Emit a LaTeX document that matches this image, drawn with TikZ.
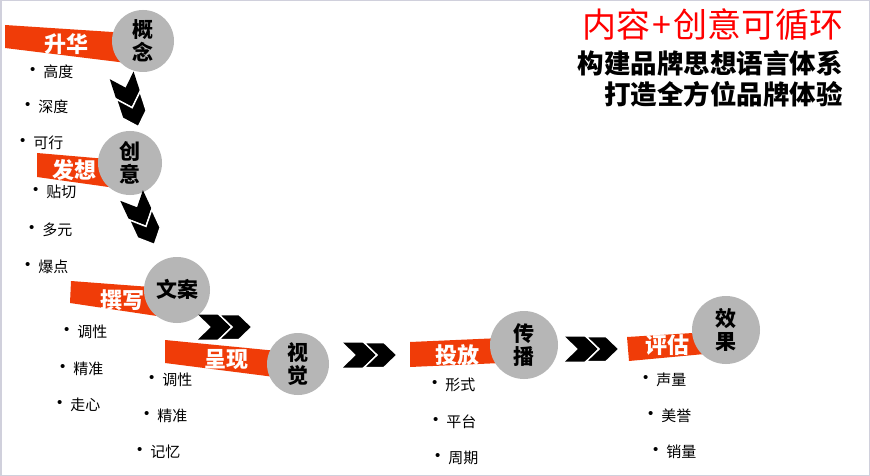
\documentclass[tikz,border=0pt]{standalone}
\usepackage{fontspec}
\newfontfamily\cjk{Noto Sans CJK SC}
\newfontfamily\lat{Liberation Sans}
\newcommand\fsz[1]{\fontsize{#1}{#1}\selectfont}
\definecolor{bannerc}{RGB}{240,60,8}
\definecolor{circc}{RGB}{182,182,182}
\definecolor{framec}{RGB}{208,208,220}
\newcommand\chevpair[3]{%
\begin{scope}[shift={(#1,#2)}, rotate=#3]
\fill[black] (-27,-12.5) -- (-7,-12.5) -- (6,0) -- (-7,12.5) -- (-27,12.5) -- (-14,0) -- cycle;
\filldraw[black, draw=white, line width=1.5pt] (-6,-12.5) -- (14,-12.5) -- (27,0) -- (14,12.5) -- (-6,12.5) -- (7,0) -- cycle;
\end{scope}}
\tikzset{
  banner/.style={fill=bannerc},
  btext/.style={text=white, font=\cjk\bfseries\fsz{22}, inner sep=0pt},
  circ/.style={circle, fill=circc, inner sep=0pt, align=center, font=\cjk\bfseries\fsz{21}},
  bul/.style={anchor=west, inner sep=0pt, font=\cjk\fsz{15}},
  title/.style={anchor=east, inner sep=0pt, font=\cjk\bfseries}
}
\newcommand\bl[1]{{\lat\raisebox{3pt}{•}}\hspace{8pt}#1}
\begin{document}
\begin{tikzpicture}[x=1pt,y=-1pt]
\useasboundingbox (0,0) rectangle (870,476);
\fill[white] (0,0) rectangle (870,476);
\draw[framec, line width=3pt] (0,0) rectangle (870,476);

% banners
\fill[banner] (5,25) -- (143,34) -- (143,65) -- (5,48) -- cycle;
\fill[banner] (37,153) -- (130,161) -- (130,190) -- (37,177) -- cycle;
\fill[banner] (71,281) -- (177,289) -- (177,319) -- (70,303) -- cycle;
\fill[banner] (165,340) -- (298,353) -- (298,380) -- (165,363) -- cycle;
\fill[banner] (410,342) -- (524,337) -- (524,362) -- (410,367) -- cycle;
\fill[banner] (627,337) -- (726,331) -- (726,352) -- (629,361) -- cycle;

% circles
\node[circ, minimum size=62pt] (gn) at (143,41) {概\\[2pt]念};
\node[circ, minimum size=64pt] (cy) at (130,163) {创\\[2pt]意};
\node[circ, minimum size=66pt] (wa) at (177,290) {\raisebox{4pt}{文案}};
\node[circ, minimum size=62pt] (sj) at (298,364) {视\\[2pt]觉};
\node[circ, minimum size=68pt] (cb) at (524,345) {传\\[2pt]播};
\node[circ, minimum size=68pt] (xg) at (726,330) {效\\[2pt]果};

% banner texts
\node[btext] (t1) at (66,44) {升华};
\node[btext] (t2) at (74,170) {发想};
\node[btext] (t3) at (122,300) {撰写};
\node[btext] (t4) at (226,360) {呈现};
\node[btext] (t5) at (457,355) {投放};
\node[btext] (t6) at (667,345) {评估};

% chevrons
\chevpair{130}{101}{-72}
\chevpair{143}{220}{-65}
\chevpair{225}{327}{0}
\chevpair{370}{355}{0}
\chevpair{592}{349}{0}

% bullets
\node[bul] (a1) at (30,72) {\bl{高度}};
\node[bul] (a2) at (25,107) {\bl{深度}};
\node[bul] (a3) at (20,143) {\bl{可行}};
\node[bul] (b1) at (33,192) {\bl{贴切}};
\node[bul] (b2) at (29,230) {\bl{多元}};
\node[bul] (b3) at (25,267) {\bl{爆点}};
\node[bul] (c1) at (64,332) {\bl{调性}};
\node[bul] (c2) at (60,369) {\bl{精准}};
\node[bul] (c3) at (57,405) {\bl{走心}};
\node[bul] (d1) at (149,380) {\bl{调性}};
\node[bul] (d2) at (144,416) {\bl{精准}};
\node[bul] (d3) at (137,452) {\bl{记忆}};
\node[bul] (e1) at (432,385) {\bl{形式}};
\node[bul] (e2) at (433,422) {\bl{平台}};
\node[bul] (e3) at (435,458) {\bl{周期}};
\node[bul] (f1) at (643,380) {\bl{声量}};
\node[bul] (f2) at (648,416) {\bl{美誉}};
\node[bul] (f3) at (653,452) {\bl{销量}};

% title
\node[title, text=red, font=\cjk\fsz{34}] (h1) at (844,25) {内容\hspace{2pt}+\hspace{2pt}创意可循环};
\node[title, font=\cjk\bfseries\fsz{26.5}] (h2) at (843,63) {构建品牌思想语言体系};
\node[title, font=\cjk\bfseries\fsz{26.5}] (h3) at (843,94) {打造全方位品牌体验};
\end{tikzpicture}
\end{document}
